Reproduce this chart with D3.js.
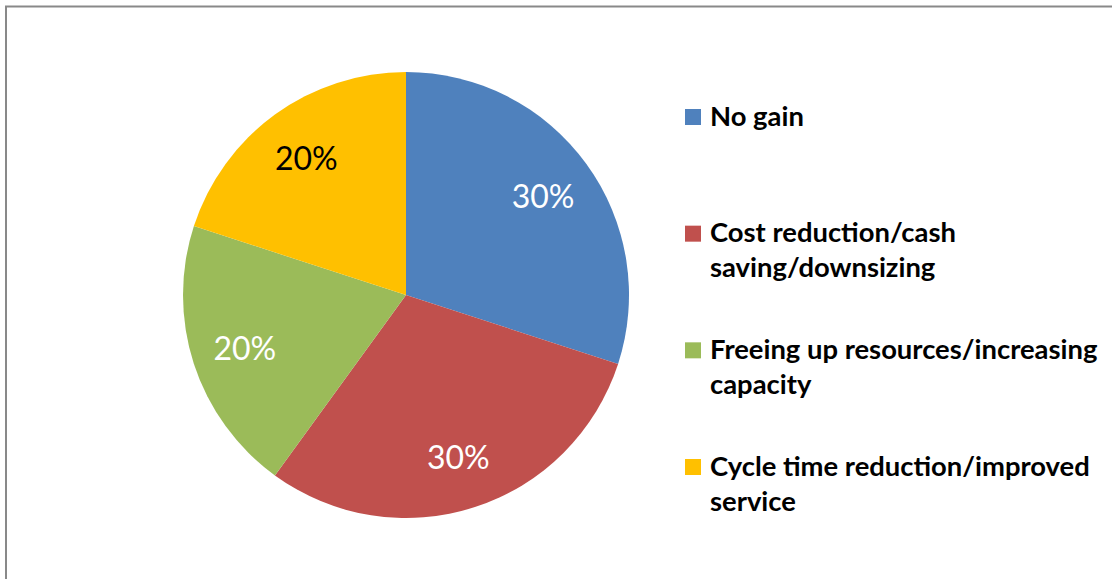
<!DOCTYPE html>
<html><head><meta charset="utf-8">
<script src="https://cdn.jsdelivr.net/npm/d3@7"></script>
<style>html,body{margin:0;padding:0;background:#fff;overflow:hidden}</style>
</head><body>
<svg id="c" width="1112" height="579"></svg>
<script>
const categories = ["No gain", "Cost reduction/cash saving/downsizing", "Freeing up resources/increasing capacity", "Cycle time reduction/improved service"];
const legendLines = [["No gain"], ["Cost reduction/cash", "saving/downsizing"], ["Freeing up resources/increasing", "capacity"], ["Cycle time reduction/improved", "service"]];
const values = [30, 30, 20, 20];
const colors = ["#4F81BD", "#C0504D", "#9BBB59", "#FFC000"];
const labelColors = ["#ffffff", "#ffffff", "#ffffff", "#000000"];

const svg = d3.select("#c");
svg.append("rect").attr("x", 6).attr("y", 6.5).attr("width", 1200).attr("height", 700)
  .attr("fill", "#fff").attr("stroke", "#898989").attr("stroke-width", 2);

const cx = 406, cy = 295, r = 223;
const pie = d3.pie().sort(null).value(d => d);
const arcs = pie(values);
const arc = d3.arc().innerRadius(0).outerRadius(r);
const labelArc = d3.arc().innerRadius(r * 0.76).outerRadius(r * 0.76);
const g = svg.append("g").attr("transform", `translate(${cx},${cy})`);
g.selectAll("path").data(arcs).join("path")
  .attr("d", arc).attr("fill", (d, i) => colors[i]);
g.selectAll("text").data(arcs).join("text")
  .attr("transform", d => `translate(${labelArc.centroid(d)})`)
  .attr("text-anchor", "middle").attr("dominant-baseline", "central")
  .attr("font-family", "Lato, 'Open Sans', sans-serif").attr("font-size", 32)
  .attr("fill", (d, i) => labelColors[i])
  .text(d => d3.format(".0%")(d.value / d3.sum(values)));

const leg = svg.append("g");
const legY = d3.scalePoint().domain(categories).range([117, 467]);
categories.forEach((c, i) => {
  const y = legY(c);
  leg.append("rect").attr("x", 685).attr("y", y - 8).attr("width", 16).attr("height", 16).attr("fill", colors[i]);
  const t = leg.append("text").attr("x", 710).attr("y", y + 8.5)
    .attr("font-family", "Lato, 'Open Sans', sans-serif").attr("font-weight", "bold")
    .attr("font-size", 27.4).attr("fill", "#000");
  legendLines[i].forEach((ln, j) => {
    t.append("tspan").attr("x", 710).attr("dy", j === 0 ? 0 : 35).text(ln);
  });
});
</script>
</body></html>
